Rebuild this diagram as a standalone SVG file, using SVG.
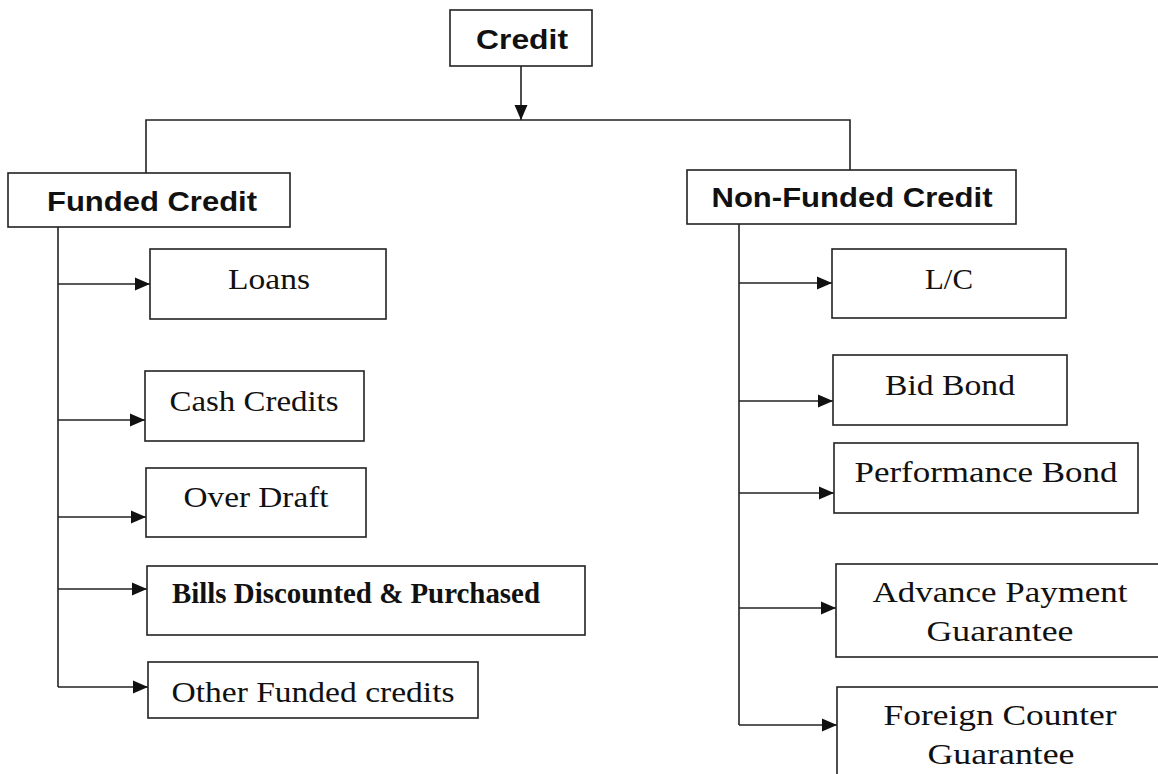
<svg xmlns="http://www.w3.org/2000/svg" width="1158" height="774" viewBox="0 0 1158 774">
<style>
.box{fill:#fff;stroke:#222;stroke-width:1.6}
.sans{font-family:"Liberation Sans",Arial,sans-serif;font-weight:bold;font-size:28px;fill:#111;text-anchor:middle}
.serif{font-family:"Liberation Serif","Times New Roman",serif;font-size:30px;fill:#111;text-anchor:middle}
.bold{font-weight:bold}
.conn{fill:none;stroke:#222;stroke-width:1.6}
</style>
<defs>
<marker id="arr" markerUnits="userSpaceOnUse" markerWidth="16" markerHeight="14" refX="15" refY="7" orient="auto">
<path d="M0,0.5 L15,7 L0,13.5 Z" fill="#111"/>
</marker>
</defs>
<rect width="1158" height="774" fill="#fff"/>
<g id="connectors">
<line class="conn" x1="521" y1="66" x2="521" y2="120" marker-end="url(#arr)"/>
<polyline class="conn" points="146,173 146,120 850,120 850,170"/>
<line class="conn" x1="58" y1="215" x2="58" y2="687"/>
<line class="conn" x1="58" y1="284" x2="150" y2="284" marker-end="url(#arr)"/>
<line class="conn" x1="58" y1="420" x2="145" y2="420" marker-end="url(#arr)"/>
<line class="conn" x1="58" y1="517" x2="146" y2="517" marker-end="url(#arr)"/>
<line class="conn" x1="58" y1="589" x2="147" y2="589" marker-end="url(#arr)"/>
<line class="conn" x1="58" y1="687" x2="148" y2="687" marker-end="url(#arr)"/>
<line class="conn" x1="739" y1="215" x2="739" y2="725"/>
<line class="conn" x1="739" y1="283" x2="832" y2="283" marker-end="url(#arr)"/>
<line class="conn" x1="739" y1="401" x2="833" y2="401" marker-end="url(#arr)"/>
<line class="conn" x1="739" y1="493" x2="834" y2="493" marker-end="url(#arr)"/>
<line class="conn" x1="739" y1="608" x2="836" y2="608" marker-end="url(#arr)"/>
<line class="conn" x1="739" y1="725" x2="837" y2="725" marker-end="url(#arr)"/>
</g>
<g id="credit">
<rect class="box" x="450" y="10" width="142" height="56"/>
<text class="sans" x="522" y="49" textLength="92" lengthAdjust="spacingAndGlyphs">Credit</text>
</g>
<g id="funded">
<rect class="box" x="8" y="173" width="282" height="54"/>
<text class="sans" x="152" y="211" textLength="210" lengthAdjust="spacingAndGlyphs">Funded Credit</text>
</g>
<g id="nonfunded">
<rect class="box" x="687" y="170" width="329" height="54"/>
<text class="sans" x="852" y="207" textLength="281" lengthAdjust="spacingAndGlyphs">Non-Funded Credit</text>
</g>
<g id="loans">
<rect class="box" x="150" y="249" width="236" height="70"/>
<text class="serif" x="269" y="289" textLength="82" lengthAdjust="spacingAndGlyphs">Loans</text>
</g>
<g id="cash">
<rect class="box" x="145" y="371" width="219" height="70"/>
<text class="serif" x="254" y="411" textLength="169" lengthAdjust="spacingAndGlyphs">Cash Credits</text>
</g>
<g id="overdraft">
<rect class="box" x="146" y="468" width="220" height="69"/>
<text class="serif" x="256" y="507" textLength="145" lengthAdjust="spacingAndGlyphs">Over Draft</text>
</g>
<g id="bills">
<rect class="box" x="147" y="566" width="438" height="69"/>
<text class="serif bold" x="356" y="603" textLength="368" lengthAdjust="spacingAndGlyphs">Bills Discounted &amp; Purchased</text>
</g>
<g id="otherfunded">
<rect class="box" x="148" y="662" width="330" height="56"/>
<text class="serif" x="313" y="702" textLength="283" lengthAdjust="spacingAndGlyphs">Other Funded credits</text>
</g>
<g id="lc">
<rect class="box" x="832" y="249" width="234" height="69"/>
<text class="serif" x="949" y="289" textLength="48" lengthAdjust="spacingAndGlyphs">L/C</text>
</g>
<g id="bidbond">
<rect class="box" x="833" y="355" width="234" height="70"/>
<text class="serif" x="950" y="395" textLength="130" lengthAdjust="spacingAndGlyphs">Bid Bond</text>
</g>
<g id="performance">
<rect class="box" x="834" y="443" width="304" height="70"/>
<text class="serif" x="986" y="482" textLength="263" lengthAdjust="spacingAndGlyphs">Performance Bond</text>
</g>
<g id="advance">
<rect class="box" x="836" y="564" width="340" height="93"/>
<text class="serif" x="1000" y="602" textLength="255" lengthAdjust="spacingAndGlyphs">Advance Payment</text>
<text class="serif" x="1000" y="641" textLength="147" lengthAdjust="spacingAndGlyphs">Guarantee</text>
</g>
<g id="foreign">
<rect class="box" x="837" y="687" width="340" height="120"/>
<text class="serif" x="1000" y="725" textLength="233" lengthAdjust="spacingAndGlyphs">Foreign Counter</text>
<text class="serif" x="1001" y="764" textLength="147" lengthAdjust="spacingAndGlyphs">Guarantee</text>
</g>
</svg>
